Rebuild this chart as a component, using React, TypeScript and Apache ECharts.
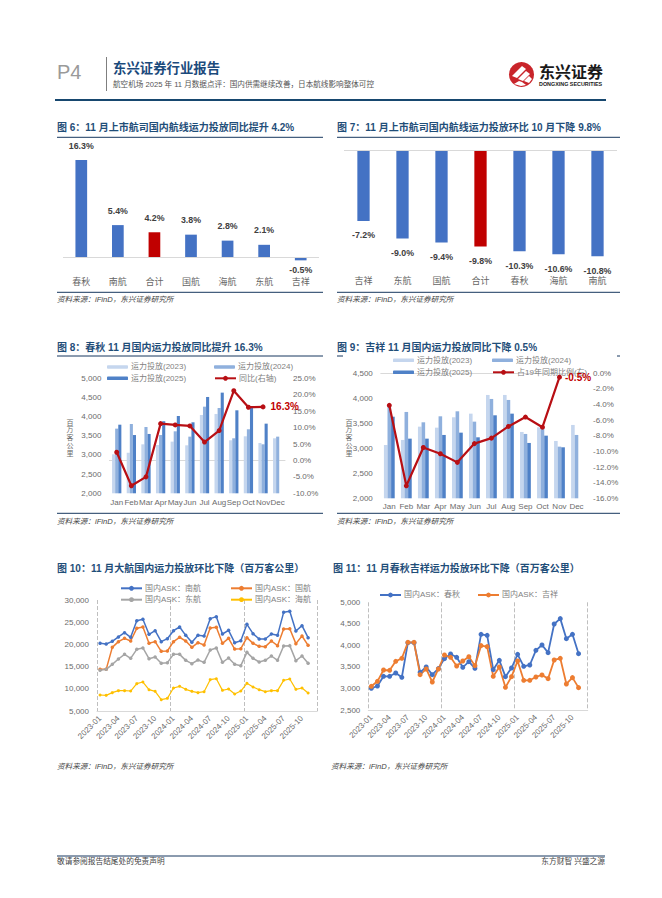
import React, { useEffect, useRef } from "react";
import * as echarts from "echarts";

const FONT = '"Liberation Sans","Noto Sans CJK SC",sans-serif';
const RED = "#c00000";
const BAR_BLUE = "#4472c4";
const NAVY = "#17375e";
const TITLE = "#1f4e79";
const AXIS_TEXT = "#6b6b6b";

const mom6Cats = ["春秋", "南航", "合计", "国航", "海航", "东航", "吉祥"];
const mom6Vals = [16.3, 5.4, 4.2, 3.8, 2.8, 2.1, -0.5];
const mom7Cats = ["吉祥", "东航", "国航", "合计", "春秋", "海航", "南航"];
const mom7Vals = [-7.2, -9.0, -9.4, -9.8, -10.3, -10.6, -10.8];

const months = ["Jan", "Feb", "Mar", "Apr", "May", "Jun", "Jul", "Aug", "Sep", "Oct", "Nov", "Dec"];
const cq2023 = [3017, 3060, 3278, 3260, 3348, 3252, 4043, 4070, 3383, 3487, 3313, 3435];
const cq2024 = [3687, 3808, 3730, 3520, 3617, 3478, 4260, 4226, 3435, 3670, 3278, 3478];
const cq2025 = [3790, 3520, 3548, 3880, 4017, 3852, 4513, 4626, 4165, 4235, 3817];
const cqYoy = [2.5, -7.7, -5.0, 11.2, 10.8, 10.5, 5.6, 9.1, 21.2, 16.2, 16.3];

const jx2023 = [3066, 3167, 3433, 3413, 3620, 3693, 4067, 4067, 3327, 3420, 3147, 3467];
const jx2024 = [3850, 3727, 3520, 3640, 3740, 3533, 3987, 3967, 3287, 3400, 3033, 3267];
const jx2025 = [3632, 3193, 3193, 3267, 3313, 3220, 3660, 3693, 3107, 3253, 3020];
const jxRatio = [-4.1, -14.4, -9.5, -10.3, -11.4, -9.0, -8.3, -6.8, -5.6, -6.9, -0.5];

const ym = [
  "2023-01","2023-02","2023-03","2023-04","2023-05","2023-06","2023-07","2023-08","2023-09","2023-10","2023-11","2023-12",
  "2024-01","2024-02","2024-03","2024-04","2024-05","2024-06","2024-07","2024-08","2024-09","2024-10","2024-11","2024-12",
  "2025-01","2025-02","2025-03","2025-04","2025-05","2025-06","2025-07","2025-08","2025-09","2025-10","2025-11","2025-12",
];
const askNH = [20240,20090,20690,21670,22640,21590,25350,25650,22270,23090,20620,21290,23090,23920,22040,20470,22040,21890,25800,26250,22340,23170,20390,20840,24520,22420,21220,21220,22340,22040,27220,27450,23020,24220,21520];
const askGH = [14380,14380,19340,20620,21370,20770,23620,23920,20240,20620,18440,18510,20620,21590,20770,19340,20390,19870,23690,23850,20240,21370,18960,19040,21520,20240,19570,19490,20770,19720,23470,23540,20170,21890,19790];
const askDH = [14160,14380,15510,16710,17760,16860,18890,19190,16790,17160,15740,15890,17760,17760,16410,15660,16490,15960,18740,19190,15960,16940,15510,15210,18210,16860,16040,16410,17390,16410,19640,19720,16340,17390,15740];
const askHH = [8600,8530,9130,9580,9580,9500,11160,11530,9800,9430,7550,7850,10180,10560,9880,9430,9130,9350,12060,12280,9650,9960,8830,9500,11230,10410,9800,9350,9580,9580,11910,12210,9880,10180,9050];
const askCQ = [3003,3057,3282,3282,3359,3259,4063,4063,3375,3498,3320,3460,3692,3800,3723,3491,3622,3467,4257,4234,3437,3653,3274,3475,3793,3514,3545,3885,4009,3831,4497,4621,4156,4257,3808];
const askJX = [3050,3166,3429,3421,3630,3700,4071,4071,3320,3452,3150,3452,3777,3723,3522,3638,3738,3529,3994,3971,3282,3498,3026,3274,3638,3189,3189,3266,3313,3228,3661,3700,3104,3251,3019];

const titles = [
  { t: "图 6：11 月上市航司国内航线运力投放同比提升 4.2%", x: 57, y: 127.5 },
  { t: "图 7：11 月上市航司国内航线运力投放环比 10 月下降 9.8%", x: 337, y: 127.5 },
  { t: "图 8：春秋 11 月国内运力投放同比提升 16.3%", x: 57, y: 347 },
  { t: "图 9：吉祥 11 月国内运力投放同比下降 0.5%", x: 337, y: 347 },
  { t: "图 10：11 月大航国内运力投放环比下降（百万客公里）", x: 57, y: 568 },
  { t: "图 11：11 月春秋吉祥运力投放环比下降（百万客公里）", x: 333, y: 568 },
];
const sources = [
  { x: 57, y: 299 }, { x: 337, y: 299 }, { x: 57, y: 521 }, { x: 337, y: 521 }, { x: 57, y: 766 }, { x: 331, y: 766 },
];
const SOURCE_TEXT = "资料来源：iFinD，东兴证券研究所";
const UNIT_TEXT = "百\n万\n客\n公\n里";
const rules = [
  [57, 137.3, 323], [337, 137.3, 620], [57, 292.3, 323], [337, 292.3, 620],
  [57, 356, 323], [337, 356, 343], [617, 356, 620], [57, 513.3, 323], [337, 513.3, 620],
];

const txt = (text: string, x: number, y: number, fontSize: number, fill: string, extra: any = {}) => ({
  type: "text", x, y, silent: true,
  style: { text, fontSize, fill, fontFamily: FONT, textVerticalAlign: "middle", textAlign: "left", ...extra },
});
const hline = (x1: number, y: number, x2: number, stroke: string, lineWidth = 1) => ({
  type: "line", silent: true, shape: { x1, y1: y, x2, y2: y }, style: { stroke, lineWidth },
});

const logo = [
  { type: "circle", shape: { cx: 521.5, cy: 74.5, r: 12.5 }, style: { fill: "#c9252b" } },
  { type: "polygon", shape: { points: [[512, 76], [522, 66], [526, 69], [517, 78]] }, style: { fill: "#fff" } },
  { type: "polygon", shape: { points: [[518, 79], [526, 71], [530, 74], [523, 81]] }, style: { fill: "#fff" } },
  { type: "polygon", shape: { points: [[524, 81], [529, 76], [532, 79], [529, 83]] }, style: { fill: "#fff" } },
  { type: "polygon", shape: { points: [[514, 84], [519, 81], [522, 82], [526, 85], [521, 86]] }, style: { fill: "#fff" } },
];

const graphics: any[] = [
  txt("P4", 57, 71.5, 20, "#9a9a9a"),
  { type: "line", silent: true, shape: { x1: 106.5, y1: 57, x2: 106.5, y2: 91 }, style: { stroke: "#7f7f7f", lineWidth: 1 } },
  txt("东兴证券行业报告", 113, 68, 13.4, "#1b4a7c", { fontWeight: "bold" }),
  txt("航空机场 2025 年 11 月数据点评：国内供需继续改善，日本航线影响整体可控", 113, 84.5, 7.6, "#555"),
  ...logo,
  txt("东兴证券", 539, 72.5, 16, "#1a1a1a", { fontWeight: "bold" }),
  txt("DONGXING SECURITIES", 539, 83.5, 5.4, "#1a1a1a", { fontWeight: "bold" }),
  hline(55, 100, 606, "#17476f", 2),
  hline(57, 856, 605, "#17375e", 1),
  txt("敬请参阅报告结尾处的免责声明", 57, 861.5, 7.7, "#444"),
  txt("东方财智 兴盛之源", 605, 861.5, 7.7, "#444", { textAlign: "right" }),
  ...titles.map((d) => txt(d.t, d.x, d.y, 10, TITLE, { fontWeight: "bold" })),
  ...sources.map((d) => txt(SOURCE_TEXT, d.x, d.y, 7.6, "#444", { fontStyle: "italic" })),
  ...rules.map((r) => hline(r[0], r[1], r[2], NAVY, 1)),
  txt(UNIT_TEXT, 70, 437.7, 7, AXIS_TEXT, { textAlign: "center", lineHeight: 7.8 }),
  txt(UNIT_TEXT, 349, 437.7, 7, AXIS_TEXT, { textAlign: "center", lineHeight: 7.8 }),
];

const px = (l: number, r: number, t: number, b: number) => ({ left: l, top: t, width: r - l, height: b - t });
const grids = [
  px(63, 319, 160, 269.3),
  px(344, 617, 150.3, 268),
  px(109.4, 285, 378.3, 493.3),
  px(380.8, 585, 373.3, 498.3),
  px(97, 317.3, 600, 711),
  px(368.3, 587.7, 602.3, 710),
];

const axisLabel = { color: AXIS_TEXT, fontSize: 8, fontFamily: FONT };
const lightLine = { show: true, lineStyle: { color: "#d9d9d9", width: 1 } };
const thousands = (v: number) => v.toLocaleString("en-US");
const pct = (v: number) => v.toFixed(1) + "%";

const catAxis = (gridIndex: number, data: string[], fontSize: number, margin: number) => ({
  type: "category", gridIndex, data, axisTick: { show: false },
  axisLine: { show: false },
  axisLabel: { ...axisLabel, fontSize, margin, interval: 0, color: "#666" },
});
const monthAxis = (gridIndex: number, margin: number) => ({
  type: "category", gridIndex, data: months, axisTick: { show: false }, axisLine: lightLine,
  axisLabel: { ...axisLabel, margin, interval: 0, hideOverlap: false },
});
const timeAxis = (gridIndex: number) => ({
  type: "category", gridIndex, data: ym,
  axisLine: lightLine, axisTick: { show: false },
  axisLabel: { ...axisLabel, rotate: 45, interval: 2, margin: 6 },
  splitLine: { show: true, interval: 11, lineStyle: { color: "#bfbfbf", type: "dashed", width: 1 } },
});
const hiddenY = (gridIndex: number, min: number, max: number) => ({
  type: "value", gridIndex, min, max, show: false, splitLine: { show: false },
});
const valueAxis = (gridIndex: number, min: number, max: number, interval: number, formatter: any, extra: any = {}) => ({
  type: "value", gridIndex, min, max, interval, splitLine: { show: false },
  axisLine: { show: false }, axisTick: { show: false },
  axisLabel: { ...axisLabel, formatter, margin: 8 }, ...extra,
});

const pctBars = (xi: number, cats: string[], vals: number[], barWidth: number, negDistance: number) => ({
  type: "bar", xAxisIndex: xi, yAxisIndex: xi, barWidth, silent: true,
  data: vals.map((v, i) => ({
    value: v,
    itemStyle: { color: cats[i] === "合计" ? RED : BAR_BLUE },
    label: v < 0 ? { position: "bottom", distance: negDistance } : { position: "top", distance: 10 },
  })),
  label: {
    show: true, fontSize: 8.8, fontWeight: "bold", color: "#404040", fontFamily: FONT,
    formatter: (p: any) => pct(p.value),
  },
  markLine: {
    silent: true, symbol: "none", label: { show: false },
    lineStyle: { color: "#d9d9d9", type: "solid", width: 1 }, data: [{ yAxis: 0 }],
  },
});

const barColors = ["#c5d6ee", "#8fb0dd", "#4f81c7"];
const barSeries = (names: string[], arrs: number[][], xi: number, yi: number, barWidth: number) =>
  arrs.map((data, i) => ({
    name: names[i], type: "bar", xAxisIndex: xi, yAxisIndex: yi, data, barWidth, barGap: "0%",
    itemStyle: { color: barColors[i] },
  }));
const redLine = (name: string, data: number[], xi: number, yi: number, idx: number, labelDx: number) => ({
  name, type: "line", xAxisIndex: xi, yAxisIndex: yi, z: 5, symbol: "circle", symbolSize: 5, showAllSymbol: true,
  itemStyle: { color: "#b80f14" }, lineStyle: { color: "#b80f14", width: 2.2 },
  data: data.map((v, i) => i === idx ? {
    value: v,
    label: {
      show: true, position: "right", distance: labelDx, color: "#c00000", fontSize: 10, fontWeight: "bold",
      fontFamily: FONT, formatter: (p: any) => pct(p.value),
    },
  } : v),
});
const askLine = (name: string, data: number[], color: string, xi: number, yi: number, width: number, size: number) => ({
  name, type: "line", xAxisIndex: xi, yAxisIndex: yi, data, symbol: "circle", symbolSize: size, showAllSymbol: true,
  itemStyle: { color }, lineStyle: { color, width },
});

const legendAt = (name: string, left: number, y: number, isBar: boolean) => ({
  data: [name], left, top: y - 5, padding: 0, itemWidth: 21, itemHeight: isBar ? 3.5 : 6, itemGap: 0,
  selectedMode: false, textStyle: { color: "#7f7f7f", fontSize: 8, fontFamily: FONT, padding: [0, 0, 0, -2] },
});

const cqNames = ["运力投放(2023)", "运力投放(2024)", "运力投放(2025)"];
const CQ_LINE = "同比(右轴)";
const JX_LINE = "占19年同期比例(右)";
const ASK4 = ["国内ASK：南航", "国内ASK：国航", "国内ASK：东航", "国内ASK：海航"];
const ASK2 = ["国内ASK：春秋", "国内ASK：吉祥"];

const option: any = {
  animation: false,
  backgroundColor: "#fff",
  textStyle: { fontFamily: FONT },
  grid: grids,
  graphic: { elements: graphics },
  legend: [
    legendAt(cqNames[0], 107, 368, true),
    legendAt(cqNames[1], 214, 368, true),
    legendAt(cqNames[2], 107, 379.3, true),
    legendAt(CQ_LINE, 214, 379.3, false),
    legendAt(cqNames[0] + " ", 393, 361.3, true),
    legendAt(cqNames[1] + " ", 492, 361.3, true),
    legendAt(cqNames[2] + " ", 393, 373.3, true),
    legendAt(JX_LINE, 492, 373.3, false),
    legendAt(ASK4[0], 120, 589.3, false),
    legendAt(ASK4[1], 230, 589.3, false),
    legendAt(ASK4[2], 120, 600.7, false),
    legendAt(ASK4[3], 230, 600.7, false),
    legendAt(ASK2[0], 379, 596, false),
    legendAt(ASK2[1], 477, 596, false),
  ],
  xAxis: [
    catAxis(0, mom6Cats, 9, 8),
    catAxis(1, mom7Cats, 9, 8),
    monthAxis(2, 5),
    monthAxis(3, 4),
    timeAxis(4),
    timeAxis(5),
  ],
  yAxis: [
    hiddenY(0, -2, 16.3),
    hiddenY(1, -12, 0),
    valueAxis(2, 2000, 5000, 500, thousands),
    valueAxis(2, -10, 25, 5, pct, { position: "right" }),
    valueAxis(3, 2000, 4500, 500, thousands),
    valueAxis(3, -16, 0, 2, pct, { position: "right" }),
    valueAxis(4, 5000, 30000, 5000, thousands),
    valueAxis(5, 2500, 5000, 500, thousands),
  ],
  series: [
    pctBars(0, mom6Cats, mom6Vals, 11.7, 5),
    pctBars(1, mom7Cats, mom7Vals, 12.3, 10),
    ...barSeries(cqNames, [cq2023, cq2024, cq2025], 2, 2, 3.1),
    redLine(CQ_LINE, cqYoy, 2, 3, 10, 5),
    ...barSeries(cqNames.map((n) => n + " "), [jx2023, jx2024, jx2025], 3, 4, 3.6),
    redLine(JX_LINE, jxRatio, 3, 5, 10, 3),
    askLine(ASK4[0], askNH, "#4472c4", 4, 6, 1.5, 3.5),
    askLine(ASK4[1], askGH, "#ed7d31", 4, 6, 1.5, 3.5),
    askLine(ASK4[2], askDH, "#a5a5a5", 4, 6, 1.5, 3.5),
    askLine(ASK4[3], askHH, "#ffc000", 4, 6, 1.2, 3),
    askLine(ASK2[0], askCQ, "#4472c4", 5, 7, 1.8, 5),
    askLine(ASK2[1], askJX, "#ed7d31", 5, 7, 1.8, 5),
  ],
};

export default function App() {
  const ref = useRef<HTMLDivElement>(null);
  useEffect(() => {
    const chart = echarts.init(ref.current!, undefined, { renderer: "svg" });
    chart.setOption(option);
    return () => chart.dispose();
  }, []);
  return (
    <div
      ref={ref}
      style={{ position: "absolute", left: 0, top: 0, width: 662, height: 898, background: "#fff" }}
    />
  );
}
